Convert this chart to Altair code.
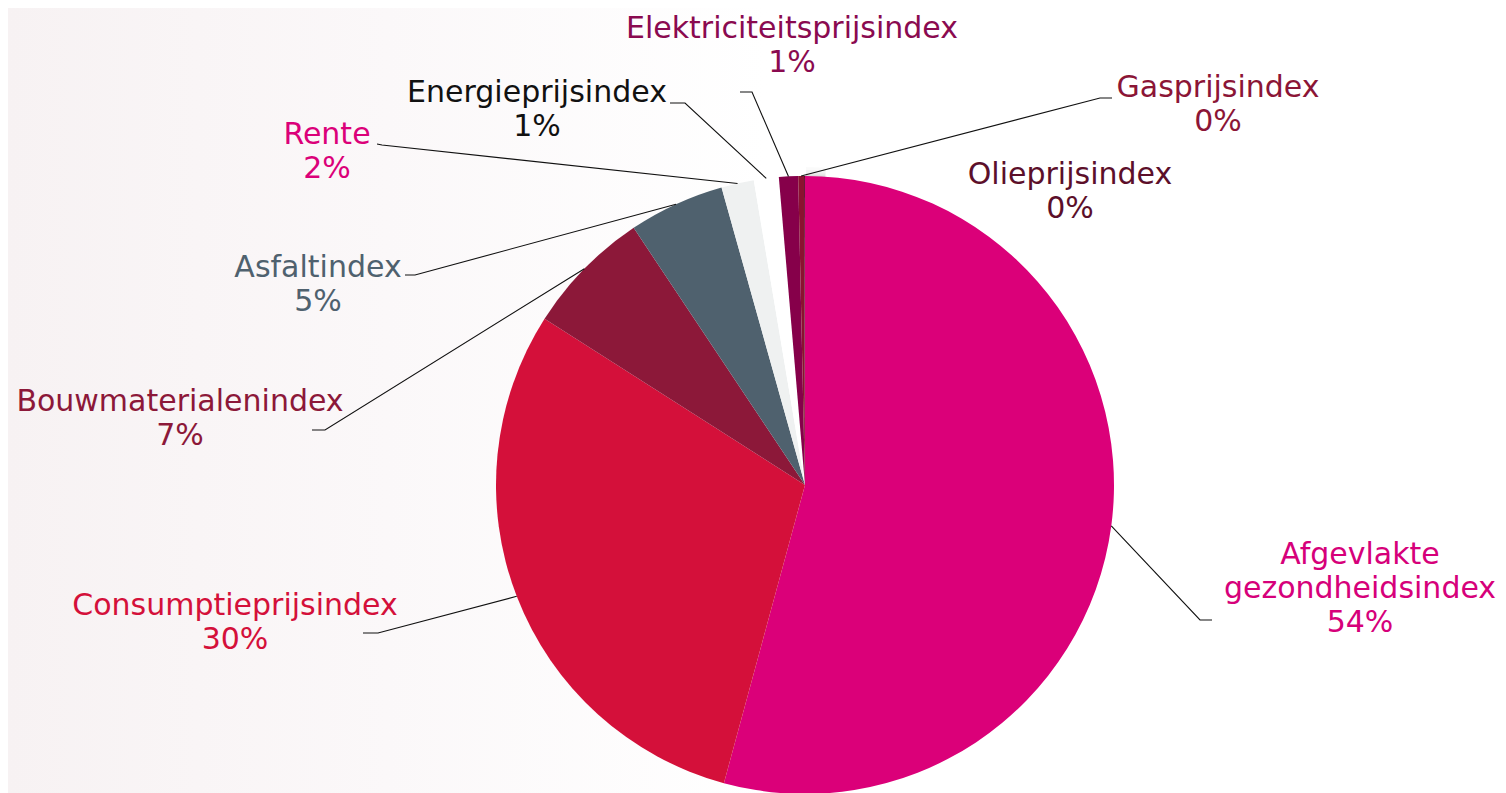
import math
import altair as alt
import pandas as pd

# ---- data ----
names = ["Afgevlakte gezondheidsindex", "Consumptieprijsindex", "Bouwmaterialenindex",
         "Asfaltindex", "Rente", "Energieprijsindex", "Elektriciteitsprijsindex",
         "Gasprijsindex", "Olieprijsindex"]
label_lines = [["Afgevlakte", "gezondheidsindex"], ["Consumptieprijsindex"], ["Bouwmaterialenindex"],
               ["Asfaltindex"], ["Rente"], ["Energieprijsindex"], ["Elektriciteitsprijsindex"],
               ["Gasprijsindex"], ["Olieprijsindex"]]
values = [54.2, 29.8, 6.6, 5.0, 1.7, 1.3, 1.0, 0.3, 0.05]

# ---- styles ----
slice_colors = ["#DB0079", "#D4103A", "#8C1839", "#4F616E", "#EFF1F1", "#FFFFFF",
                "#86004A", "#8B1230", "#5C0F2A"]
text_colors = ["#D6007A", "#D4103A", "#8C1839", "#4F616E", "#DB0079", "#111111",
               "#8A0A50", "#8B1536", "#5C0F2A"]

# ---- layout (chart coordinates) ----
CX, CY, R = 797, 477, 309
# label first-line centre (x, y), elbow point, line end point (None = no leader line)
label_pos = [(1352, 547), (227, 598), (172, 394), (310, 260), (319, 127),
             (529, 85), (784, 21), (1210, 80), (1062, 167)]
elbows = [(1192, 612), (370, 625), (317, 422), (407, 267), (374, 137),
          (677, 95), (744, 84), (1092, 90), None]
ends = [(1204, 612), (355, 625), (304, 422), (397, 267), (369, 136),
        (662, 95), (732, 84), (1104, 90), None]

total = sum(values)
rows, line_rows, text_rows = [], [], []
cum = 0.0
for i, (n, v) in enumerate(zip(names, values)):
    mid = (cum + v / 2) / total * 2 * math.pi
    cum += v
    rows.append({"name": n, "value": v, "idx": i})
    pct = f"{round(v / total * 100)}%"
    text_rows.append({"name": n, "label": "\n".join(label_lines[i] + [pct]),
                      "lx": label_pos[i][0], "ly": label_pos[i][1]})
    if elbows[i] is not None:
        sx = CX + R * math.sin(mid)
        sy = CY - R * math.cos(mid)
        for k, (px, py) in enumerate([(sx, sy), elbows[i], ends[i]]):
            line_rows.append({"name": n, "k": k, "px": px, "py": py})

df = pd.DataFrame(rows)
lines_df = pd.DataFrame(line_rows)
text_df = pd.DataFrame(text_rows)

color_scale = alt.Scale(domain=names, range=slice_colors)
text_scale = alt.Scale(domain=names, range=text_colors)

bg = alt.Chart(pd.DataFrame({"a": [0]})).mark_rect(
    color=alt.Gradient(gradient="linear",
                       stops=[alt.GradientStop(color="#F7F2F3", offset=0),
                              alt.GradientStop(color="#FBF8F9", offset=0.5),
                              alt.GradientStop(color="#FFFFFF", offset=1)],
                       x1=0, x2=1, y1=0, y2=0)
).encode(x=alt.value(0), x2=alt.value(760), y=alt.value(0), y2=alt.value(785))

shadows = []
for rr, op in [(319, 0.02), (316, 0.03), (313, 0.04), (311, 0.05)]:
    shadows.append(alt.Chart(pd.DataFrame({"a": [1]})).mark_arc(
        radius=rr, color="#000000", opacity=op
    ).encode(theta=alt.Theta("a:Q"), x=alt.value(CX + 1), y=alt.value(CY + 1)))

pie = alt.Chart(df).mark_arc(radius=R, strokeWidth=0).encode(
    theta=alt.Theta("value:Q", stack=True),
    order=alt.Order("idx:Q"),
    color=alt.Color("name:N", scale=color_scale, legend=None),
    x=alt.value(CX), y=alt.value(CY),
)

leaders = alt.Chart(lines_df).mark_line(color="#111111", strokeWidth=1.1).encode(
    x=alt.X("px:Q", scale=None, axis=None),
    y=alt.Y("py:Q", scale=None, axis=None),
    detail="name:N",
    order="k:Q",
)

labels = alt.Chart(text_df).mark_text(
    font="DejaVu Sans", fontSize=30, lineHeight=34, align="center", baseline="middle",
    lineBreak="\n"
).encode(
    x=alt.X("lx:Q", scale=None, axis=None),
    y=alt.Y("ly:Q", scale=None, axis=None),
    text="label:N",
    color=alt.Color("name:N", scale=text_scale, legend=None),
)

chart = alt.layer(bg, *shadows, pie, leaders, labels).resolve_scale(
    color="independent"
).properties(
    width=1490, height=785, autosize=alt.AutoSizeParams(type="none"), padding=0,
    background="#FFFFFF"
).configure_view(strokeWidth=0)

chart.save("out.html", embed_options={"renderer": "svg", "actions": False})
